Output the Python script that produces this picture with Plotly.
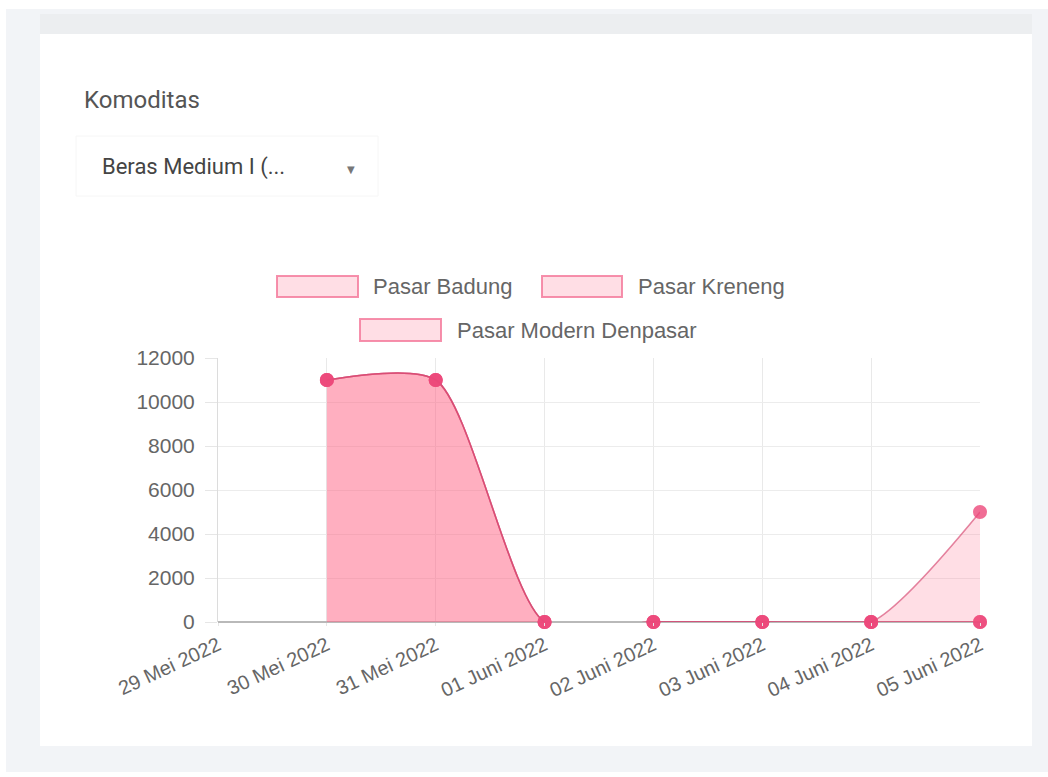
import plotly.graph_objects as go

# Price series per market, one value per day (None = no data)
dates = ["29 Mei 2022", "30 Mei 2022", "31 Mei 2022", "01 Juni 2022",
         "02 Juni 2022", "03 Juni 2022", "04 Juni 2022", "05 Juni 2022"]
series_names = ["Pasar Badung", "Pasar Kreneng", "Pasar Modern Denpasar"]
pasar_badung = [None, 11000, 11000, 0, 0, 0, 0, 0]
pasar_kreneng = [None, 11000, 11000, 0, 0, 0, 0, 0]
pasar_modern_denpasar = [None, 11000, 11000, 0, 0, 0, 0, 5000]
y_ticks = [0, 2000, 4000, 6000, 8000, 10000, 12000]
y_tick_labels = ["0", "2000", "4000", "6000", "8000", "10000", "12000"]

W, H = 1048, 777
ML, MR, MT, MB = 218, 68, 358, 155
PW, PH = W - ML - MR, H - MT - MB


def px(x):
    return (x - ML) / PW


def py(y):
    return (H - MB - y) / PH


FILL = "rgba(255,99,132,0.21)"
LINE = "rgba(214,70,112,0.65)"
MARK = "rgba(236,72,122,0.8)"
TXT = "#666666"
FONT = "Liberation Sans, Arial, sans-serif"

fig = go.Figure()
for name, vals in zip(series_names, [pasar_badung, pasar_kreneng, pasar_modern_denpasar]):
    fig.add_trace(go.Scatter(
        x=dates, y=vals, name=name, mode="lines+markers",
        line=dict(color=LINE, width=1.5, shape="spline", smoothing=0.7),
        marker=dict(color=MARK, size=14, line=dict(width=0)),
        fill="tozeroy", fillcolor=FILL, connectgaps=False,
        cliponaxis=False, showlegend=False,
    ))

shapes = [
    # page background and card
    dict(type="rect", xref="paper", yref="paper", x0=px(6), x1=px(1048), y0=py(772), y1=py(9),
         fillcolor="#f2f4f7", line=dict(width=0), layer="below"),
    dict(type="rect", xref="paper", yref="paper", x0=px(40), x1=px(1032), y0=py(36), y1=py(14),
         fillcolor="#eceef0", line=dict(width=0), layer="below"),
    dict(type="rect", xref="paper", yref="paper", x0=px(40), x1=px(1032), y0=py(746), y1=py(34),
         fillcolor="#ffffff", line=dict(width=0), layer="below"),
    # dropdown box
    dict(type="rect", xref="paper", yref="paper", x0=px(76), x1=px(378), y0=py(196), y1=py(136),
         fillcolor="#ffffff", line=dict(color="#f6f6f6", width=1), layer="below"),
]

annotations = [
    dict(text="Komoditas", xref="paper", yref="paper", x=px(82), y=py(100),
         xanchor="left", yanchor="middle", showarrow=False,
         font=dict(family="Roboto, sans-serif", size=24, color="#555555")),
    dict(text="Beras Medium I (...", xref="paper", yref="paper", x=px(100), y=py(167),
         xanchor="left", yanchor="middle", showarrow=False,
         font=dict(family="Roboto, sans-serif", size=22, color="#444444")),
    dict(text="▼", xref="paper", yref="paper", x=px(351), y=py(169),
         xanchor="center", yanchor="middle", showarrow=False,
         font=dict(family="DejaVu Sans", size=10, color="#777777")),
]

# legend drawn as wide swatches with labels
legend_items = [(277, 358, 276, 297, 371, 286),
                (542, 622, 276, 297, 636, 286),
                (360, 441, 319, 341, 455, 330)]
for name, (x0, x1, y0, y1, tx, ty) in zip(series_names, legend_items):
    shapes.append(dict(type="rect", xref="paper", yref="paper",
                       x0=px(x0), x1=px(x1), y0=py(y1), y1=py(y0),
                       fillcolor=FILL, line=dict(color="rgba(245,125,158,0.85)", width=2)))
    annotations.append(dict(text=name, xref="paper", yref="paper", x=px(tx), y=py(ty),
                            xanchor="left", yanchor="middle", showarrow=False,
                            font=dict(family=FONT, size=22, color=TXT)))

fig.update_layout(
    width=W, height=H,
    margin=dict(l=ML, r=MR, t=MT, b=MB, pad=0),
    paper_bgcolor="#ffffff", plot_bgcolor="rgba(0,0,0,0)",
    shapes=shapes, annotations=annotations, showlegend=False,
    font=dict(family=FONT, size=20, color=TXT),
)
fig.update_xaxes(
    type="category", categoryorder="array", categoryarray=dates,
    range=[0, len(dates) - 1], tickangle=-25,
    showgrid=True, gridcolor="#e9e9e9", gridwidth=1,
    ticks="outside", ticklen=3, tickcolor="#e6e6e6",
    showline=False, zeroline=False,
    tickfont=dict(family=FONT, size=20, color=TXT),
)
fig.update_yaxes(
    range=[0, 12000], tickvals=y_ticks, ticktext=y_tick_labels,
    showgrid=True, gridcolor="#ececec", gridwidth=1,
    ticks="outside", ticklen=12, tickcolor="#e6e6e6", ticklabelstandoff=6,
    showline=True, linecolor="#dcdcdc", linewidth=1,
    zeroline=True, zerolinecolor="#b9b9b9", zerolinewidth=1.5,
    tickfont=dict(family=FONT, size=21, color=TXT),
)

fig.write_html("out.html")
